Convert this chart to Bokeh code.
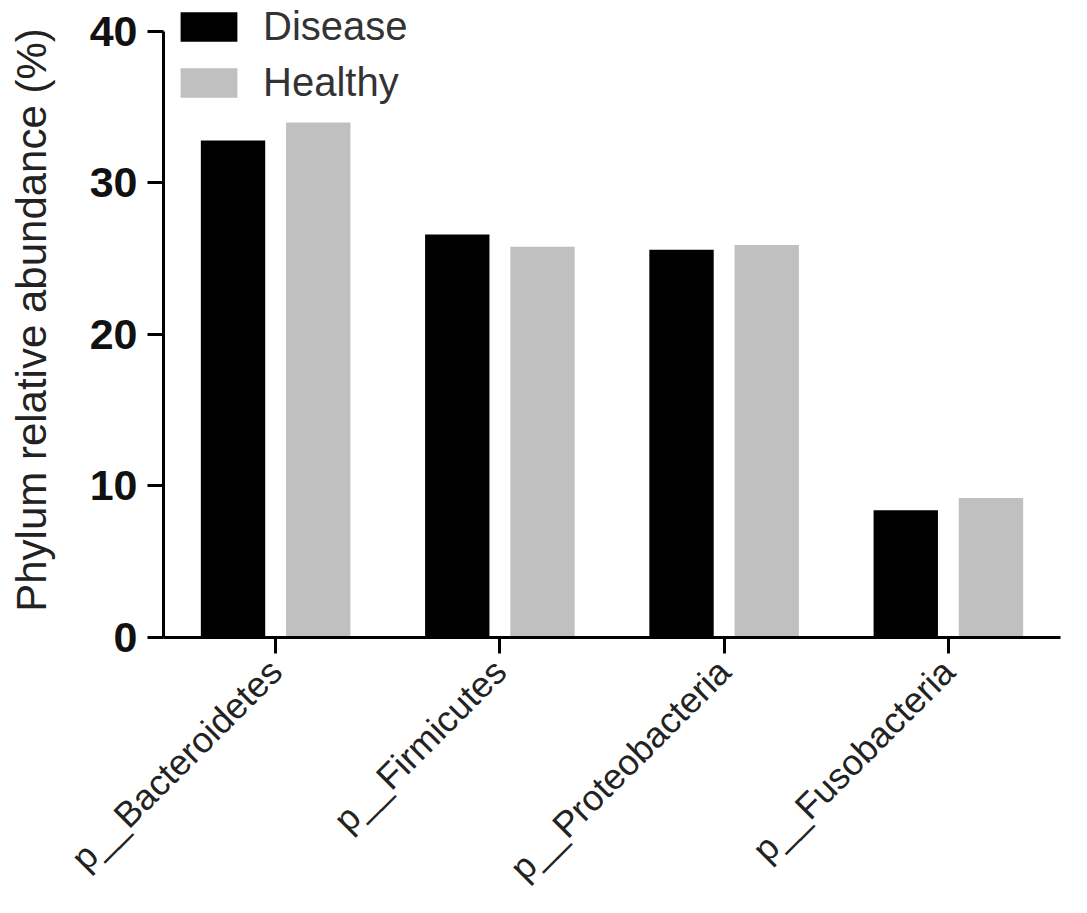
import math
from bokeh.plotting import figure
from bokeh.models import ColumnDataSource, Range1d, FixedTicker, Legend, LegendItem
from bokeh.transform import dodge
from bokeh.embed import file_html
from bokeh.resources import INLINE

categories = ["p__Bacteroidetes", "p__Firmicutes", "p__Proteobacteria", "p__Fusobacteria"]
disease = [32.8, 26.6, 25.6, 8.4]
healthy = [34.0, 25.8, 25.9, 9.2]
y_ticks = [0, 10, 20, 30, 40]

src = ColumnDataSource(dict(cat=categories, disease=disease, healthy=healthy))

FONT = "Liberation Sans"

p = figure(x_range=categories, y_range=Range1d(0, 41.914),
           width=1079, height=905, output_backend="svg", toolbar_location=None,
           min_border_left=163, min_border_right=19, min_border_top=2, min_border_bottom=268)
p.outline_line_color = None
p.xgrid.grid_line_color = None
p.ygrid.grid_line_color = None

r1 = p.vbar(x=dodge("cat", -0.19, range=p.x_range), top="disease", width=0.287,
            source=src, fill_color="#000000", line_color=None)
r2 = p.vbar(x=dodge("cat", 0.19, range=p.x_range), top="healthy", width=0.287,
            source=src, fill_color="#c0c0c0", line_color=None)

# y axis
ya = p.yaxis[0]
ya.ticker = FixedTicker(ticks=y_ticks)
ya.bounds = (0, 40)
ya.axis_line_width = 3
ya.major_tick_line_width = 3
ya.major_tick_out = 16
ya.major_tick_in = 0
ya.minor_tick_line_color = None
ya.major_label_text_font = FONT
ya.major_label_text_font_style = "bold"
ya.major_label_text_font_size = "43px"
ya.major_label_text_color = "#111111"
ya.major_label_standoff = 10
ya.axis_label = "Phylum relative abundance (%)"
ya.axis_label_text_font = FONT
ya.axis_label_text_font_style = "normal"
ya.axis_label_text_font_size = "42px"
ya.axis_label_text_color = "#222222"
ya.axis_label_standoff = 32

# x axis
xa = p.xaxis[0]
xa.axis_line_width = 3
xa.major_tick_line_width = 3
xa.major_tick_out = 16
xa.major_tick_in = 0
xa.minor_tick_line_color = None
xa.major_label_orientation = math.pi / 4
xa.major_label_text_font = FONT
xa.major_label_text_font_size = "36px"
xa.major_label_text_color = "#222222"
xa.major_label_standoff = 12

legend = Legend(items=[LegendItem(label="Disease", renderers=[r1]),
                       LegendItem(label="Healthy", renderers=[r2])],
                location=(10, 532))
legend.border_line_color = None
legend.background_fill_alpha = 0
legend.margin = 0
legend.padding = 0
legend.glyph_width = 71
legend.glyph_height = 37
legend.label_height = 30
legend.spacing = 11
legend.label_standoff = 19
legend.label_text_font = FONT
legend.label_text_font_size = "40px"
legend.label_text_color = "#333333"
p.add_layout(legend, "center")

open("out.html", "w").write(file_html(p, INLINE))
